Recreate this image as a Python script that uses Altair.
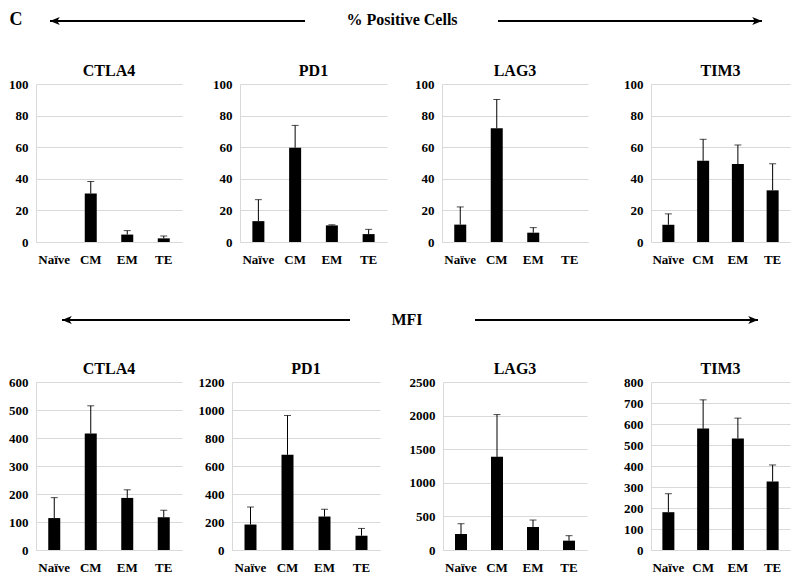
import altair as alt
import pandas as pd

FONT = "Times New Roman, Liberation Serif, serif"

categories = ["Naïve", "CM", "EM", "TE"]
markers = ["CTLA4", "PD1", "LAG3", "TIM3"]

# % Positive Cells (bar value, top of error bar)
pct_ctla4 = [None, 30.7, 4.7, 2.3]
pct_ctla4_err = [None, 38.3, 7.2, 3.8]
pct_pd1 = [13.2, 59.7, 10.5, 5.0]
pct_pd1_err = [26.8, 73.8, 10.9, 8.0]
pct_lag3 = [11.0, 72.0, 5.9, None]
pct_lag3_err = [22.2, 90.2, 9.1, None]
pct_tim3 = [10.9, 51.4, 49.3, 32.7]
pct_tim3_err = [17.8, 65.0, 61.4, 49.5]

# MFI (bar value, top of error bar)
mfi_ctla4 = [114, 416, 186, 117]
mfi_ctla4_err = [187, 515, 215, 142]
mfi_pd1 = [182, 680, 239, 102]
mfi_pd1_err = [307, 961, 291, 154]
mfi_lag3 = [238, 1386, 342, 139]
mfi_lag3_err = [391, 2015, 446, 213]
mfi_tim3 = [180, 578, 531, 326]
mfi_tim3_err = [268, 715, 628, 405]

pct_max = [100, 100, 100, 100]
pct_step = [20, 20, 20, 20]
mfi_max = [600, 1200, 2500, 800]
mfi_step = [100, 200, 500, 100]

top_label = "% Positive Cells"
mfi_label = "MFI"
panel_letter = "C"

GRID = "#d9d9d9"
LEFT0 = 36  # page x where the header plot area starts (aligned with first panel)


def panel(name, vals, errs, ymax, ystep, width, height, extent, xpad):
    df = pd.DataFrame({"cat": categories, "val": vals, "err": errs})
    xscale = alt.Scale(domain=categories, paddingInner=0, paddingOuter=0)
    yscale = alt.Scale(domain=[0, ymax], nice=False, zero=True)
    x_axis = alt.Axis(title=None, labelAngle=0, ticks=False, grid=False,
                      domainColor=GRID, labelPadding=xpad)
    y_axis = alt.Axis(title=None, ticks=False, grid=True, gridColor=GRID,
                      domainColor=GRID, values=list(range(0, ymax + 1, ystep)),
                      format="d", labelPadding=8, minExtent=extent)
    xenc = alt.X("cat:N", sort=categories, scale=xscale, axis=x_axis)
    base = alt.Chart(df)
    bars = base.mark_bar(color="black", size=12).encode(
        x=xenc,
        y=alt.Y("val:Q", scale=yscale, axis=y_axis),
    )
    rule = base.mark_rule(color="black", strokeWidth=1).encode(
        x=xenc,
        y=alt.Y("val:Q", scale=yscale, axis=y_axis),
        y2="err:Q",
    )
    cap = base.mark_tick(color="black", size=7, thickness=1).encode(
        x=xenc,
        y=alt.Y("err:Q", scale=yscale, axis=y_axis),
    )
    return alt.layer(bars, rule, cap).properties(
        width=width, height=height,
        title=alt.TitleParams(name, font=FONT, fontSize=16, fontWeight="bold",
                              offset=-1, anchor="middle"),
    )


def header(y0, y1, texts, arrows):
    xs = alt.Scale(domain=[LEFT0, 792], nice=False, zero=False)
    ys = alt.Scale(domain=[y0, y1], nice=False, zero=False, reverse=True)
    tdf = pd.DataFrame(texts)
    adf = pd.DataFrame(arrows)
    lines = alt.Chart(adf).mark_rule(color="black", strokeWidth=2).encode(
        x=alt.X("x1:Q", scale=xs, axis=None), x2="x2:Q",
        y=alt.Y("y:Q", scale=ys, axis=None),
    )
    heads = alt.Chart(adf).mark_point(filled=True, color="black", opacity=1,
                                      size=380).encode(
        x=alt.X("hx:Q", scale=xs, axis=None),
        y=alt.Y("y:Q", scale=ys, axis=None),
        shape=alt.Shape("shape:N", scale=None),
    )
    txt = alt.Chart(tdf).mark_text(font=FONT, fontWeight="bold", color="black",
                                   baseline="middle", align="center").encode(
        x=alt.X("x:Q", scale=xs, axis=None),
        y=alt.Y("y:Q", scale=ys, axis=None),
        text="t:N",
        size=alt.Size("s:Q", scale=None),
    )
    return alt.layer(lines, heads, txt).properties(width=792 - LEFT0, height=y1 - y0)


LEFT_HEAD = "M 0 0 L 1 -0.42 L 0.75 0 L 1 0.42 Z"
RIGHT_HEAD = "M 0 0 L -1 -0.42 L -0.75 0 L -1 0.42 Z"

head1 = header(
    8, 63,
    {"x": [402, 16], "y": [20, 20], "t": [top_label, panel_letter], "s": [16, 18]},
    {"x1": [50, 498], "x2": [305, 762], "y": [21, 21], "hx": [50, 762],
     "shape": [LEFT_HEAD, RIGHT_HEAD]},
)

row1_vals = [(pct_ctla4, pct_ctla4_err), (pct_pd1, pct_pd1_err),
             (pct_lag3, pct_lag3_err), (pct_tim3, pct_tim3_err)]
row2_vals = [(mfi_ctla4, mfi_ctla4_err), (mfi_pd1, mfi_pd1_err),
             (mfi_lag3, mfi_lag3_err), (mfi_tim3, mfi_tim3_err)]

row1_widths = [146, 147, 146, 139]
row1_ext = [28, 58, 55, 63]
row2_widths = [146, 148, 144, 139]
row2_ext = [28, 50, 63, 64]

row1 = alt.hconcat(*[
    panel(markers[i], row1_vals[i][0], row1_vals[i][1], pct_max[i], pct_step[i],
          row1_widths[i], 158, row1_ext[i], 11)
    for i in range(4)
], spacing=0)

row2 = alt.hconcat(*[
    panel(markers[i], row2_vals[i][0], row2_vals[i][1], mfi_max[i], mfi_step[i],
          row2_widths[i], 168, row2_ext[i], 11)
    for i in range(4)
], spacing=0)

head2 = header(
    264, 359,
    {"x": [407], "y": [318], "t": [mfi_label], "s": [16]},
    {"x1": [62, 475], "x2": [350, 758], "y": [318, 318], "hx": [62, 758],
     "shape": [LEFT_HEAD, RIGHT_HEAD]},
)

chart = alt.vconcat(head1, row1, head2, row2, spacing=0).properties(
    padding=0
).configure_view(stroke=None).configure_axis(
    labelFont=FONT, labelFontWeight="bold", labelFontSize=13, labelColor="black",
).configure_title(font=FONT)

chart.save("out.html", embed_options={"renderer": "svg", "actions": False})
